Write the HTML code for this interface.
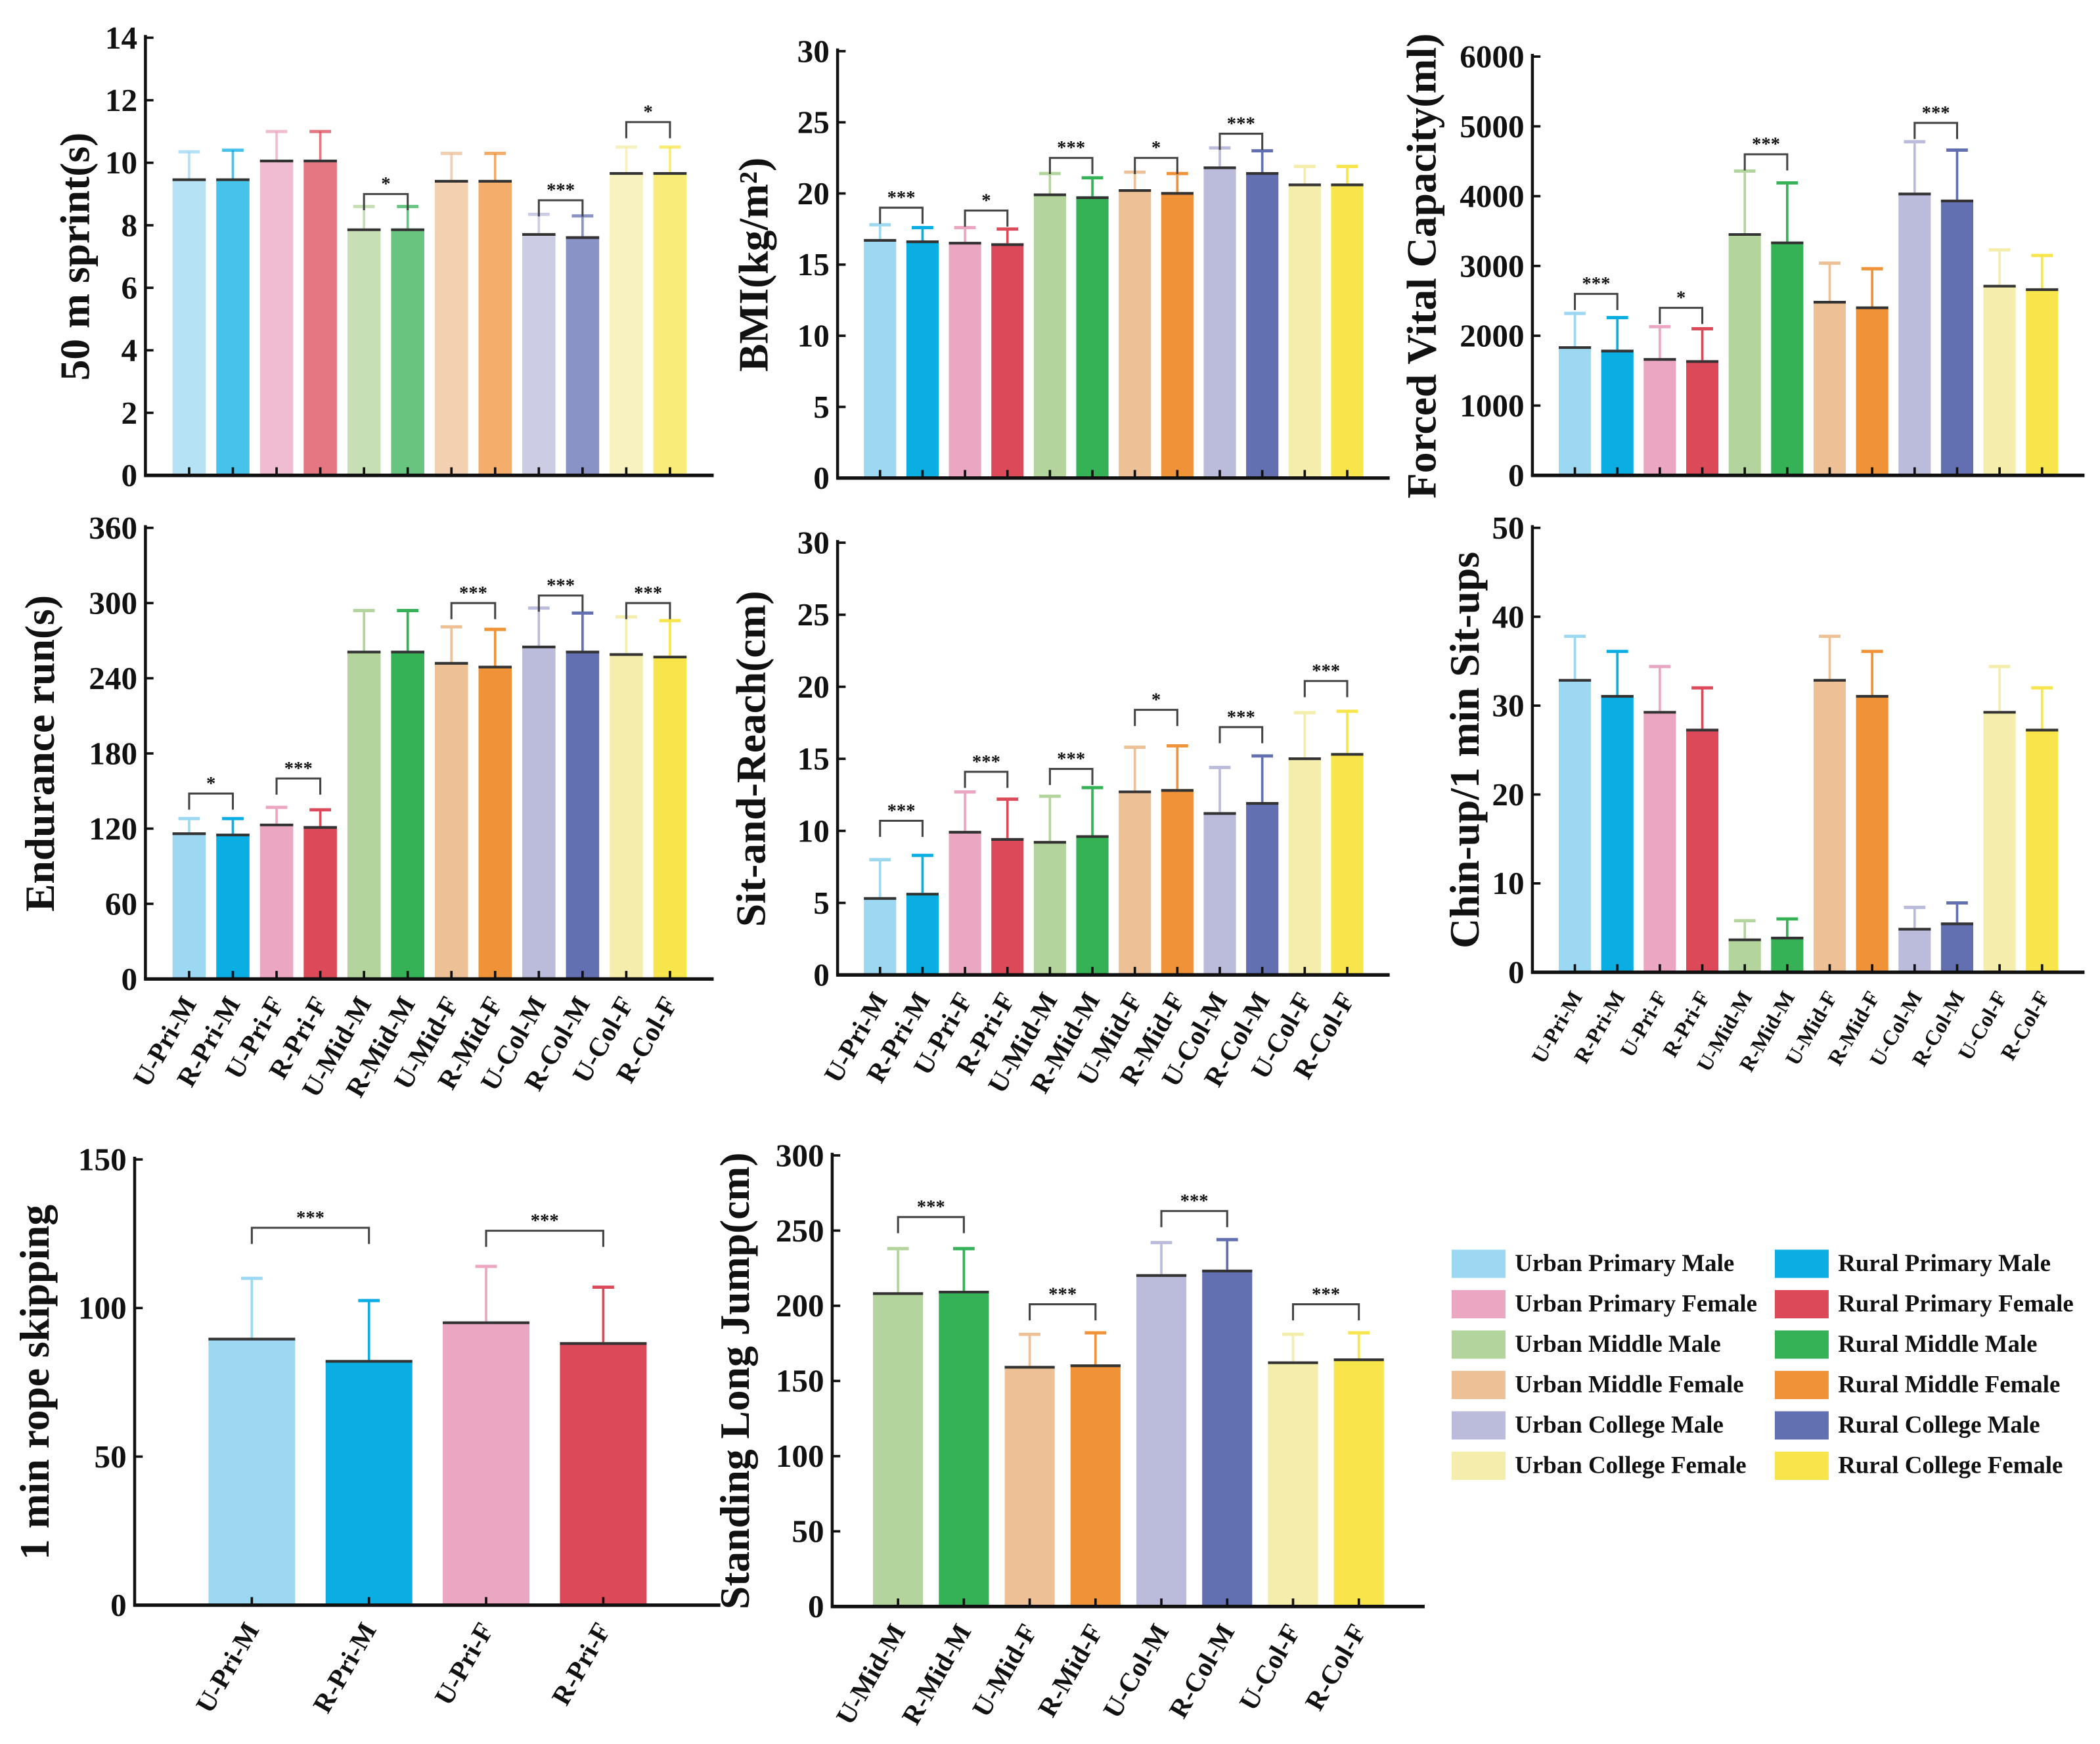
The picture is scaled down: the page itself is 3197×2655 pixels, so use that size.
<!DOCTYPE html>
<html><head><meta charset="utf-8">
<style>
html,body{margin:0;padding:0;background:#fff;}
svg{display:block;}
text{font-family:"Liberation Serif",serif;font-weight:bold;fill:#111;}
</style></head>
<body>
<svg id="fig" width="3197" height="2655" viewBox="0 0 1559.5 1295.1" preserveAspectRatio="none" xmlns="http://www.w3.org/2000/svg"></svg>
<script>
const colors12 = ["#9dd8f2","#0aaee3","#eba6c1","#dc4a5a","#b3d49c","#35b156","#edc095","#f09238","#bbbbdb","#626fb1","#f5edab","#f8e54c"];
const cats12 = ["U-Pri-M","R-Pri-M","U-Pri-F","R-Pri-F","U-Mid-M","R-Mid-M","U-Mid-F","R-Mid-F","U-Col-M","R-Col-M","U-Col-F","R-Col-F"];

const sprintValues = [9.5,9.5,10.1,10.1,7.9,7.9,9.45,9.45,7.75,7.65,9.7,9.7];
const sprintErr = [10.35,10.4,11.0,11.0,8.6,8.6,10.3,10.3,8.35,8.3,10.5,10.5];
const sprintTicks = [0,2,4,6,8,10,12,14];
const sprintSig = [[4,5,"*",9.0],[8,9,"***",8.8],[10,11,"*",11.3]];

const bmiValues = [16.8,16.7,16.6,16.5,20.0,19.8,20.3,20.1,21.9,21.5,20.7,20.7];
const bmiErr = [17.8,17.6,17.6,17.5,21.4,21.1,21.5,21.4,23.2,23.0,21.9,21.9];
const bmiTicks = [0,5,10,15,20,25,30];
const bmiSig = [[0,1,"***",19.0],[2,3,"*",18.8],[4,5,"***",22.5],[6,7,"*",22.5],[8,9,"***",24.2]];

const fvcValues = [1850,1800,1680,1650,3470,3350,2500,2420,4050,3950,2730,2680];
const fvcErr = [2320,2260,2130,2100,4360,4190,3040,2960,4780,4660,3230,3150];
const fvcTicks = [0,1000,2000,3000,4000,5000,6000];
const fvcSig = [[0,1,"***",2600],[2,3,"*",2400],[4,5,"***",4600],[8,9,"***",5050]];

const endValues = [117,116,124,122,262,262,253,250,266,262,260,258];
const endErr = [128,128,137,135,294,294,281,279,296,292,289,286];
const endTicks = [0,60,120,180,240,300,360];
const endSig = [[0,1,"*",148],[2,3,"***",160],[6,7,"***",300],[8,9,"***",306],[10,11,"***",300]];

const sitValues = [5.4,5.7,10.0,9.5,9.3,9.7,12.8,12.9,11.3,12.0,15.1,15.4];
const sitErr = [8.0,8.3,12.7,12.2,12.4,13.0,15.8,15.9,14.4,15.2,18.2,18.3];
const sitTicks = [0,5,10,15,20,25,30];
const sitSig = [[0,1,"***",10.7],[2,3,"***",14.1],[4,5,"***",14.3],[6,7,"*",18.4],[8,9,"***",17.2],[10,11,"***",20.4]];

const chinValues = [33,31.2,29.4,27.4,3.8,4.0,33,31.2,5.0,5.6,29.4,27.4];
const chinErr = [37.8,36.1,34.4,32,5.8,6.0,37.8,36.1,7.3,7.8,34.4,32];
const chinTicks = [0,10,20,30,40,50];

const ropeCats = ["U-Pri-M","R-Pri-M","U-Pri-F","R-Pri-F"];
const ropeValues = [90,82.5,95.5,88.5];
const ropeErr = [110,102.5,114,107];
const ropeTicks = [0,50,100,150];
const ropeSig = [[0,1,"***",127],[2,3,"***",126]];

const jumpCats = ["U-Mid-M","R-Mid-M","U-Mid-F","R-Mid-F","U-Col-M","R-Col-M","U-Col-F","R-Col-F"];
const jumpValues = [209,210,160,161,221,224,163,165];
const jumpErr = [238,238,181,182,242,244,181,182];
const jumpTicks = [0,50,100,150,200,250,300];
const jumpSig = [[0,1,"***",259],[2,3,"***",201],[4,5,"***",263],[6,7,"***",201]];

const legendLabels = ["Urban Primary Male","Rural Primary Male","Urban Primary Female","Rural Primary Female","Urban Middle Male","Rural Middle Male","Urban Middle Female","Rural Middle Female","Urban College Male","Rural College Male","Urban College Female","Rural College Female"];

const NS="http://www.w3.org/2000/svg";
const svg=document.getElementById('fig');
function mk(tag,attrs,parent){const e=document.createElementNS(NS,tag);for(const k in attrs)e.setAttribute(k,attrs[k]);(parent||svg).appendChild(e);return e;}

function chart(o){
  const g=mk('g',{});
  
  
  const max=o.ticks[o.ticks.length-1];
  const y=v=>o.y0-(v/max)*(o.y0-o.yTop);
  const n=o.values.length;
  const band=(o.xEnd-o.x0)/(n+1);
  const xc=i=>o.x0+band*(i+1);
  const bw=band*o.bwf;
  const ya=mk('line',{x1:o.x0,y1:o.yTop-2,x2:o.x0,y2:o.y0+1,stroke:'#111','stroke-width':2.2},g);
  
  
  o.ticks.forEach(t=>{
    mk('line',{x1:o.x0,y1:y(t),x2:o.x0+6,y2:y(t),stroke:'#111','stroke-width':1.8},g);
    const tl=mk('text',{x:o.x0-6,y:y(t)+8,'text-anchor':'end','font-size':o.tfs||24},g);
    tl.textContent=t;
    
    
  });
  const yt=mk('text',{x:0,y:0,'text-anchor':'middle','font-size':o.titleFs||31,transform:`translate(${o.titleX},${(o.y0+o.yTop)/2}) rotate(-90)`},g);
  yt.textContent=o.title;
  
  
  o.values.forEach((v,i)=>{
    const c=o.colors[i];
    const eb=mk('g',{},g);
    
    
    mk('line',{x1:xc(i),y1:y(v),x2:xc(i),y2:y(o.err[i]),stroke:c,'stroke-width':1.8,opacity:o.op||1},eb);
    mk('line',{x1:xc(i)-8,y1:y(o.err[i]),x2:xc(i)+8,y2:y(o.err[i]),stroke:c,'stroke-width':2.4,opacity:o.op||1},eb);
    const b=mk('rect',{x:xc(i)-bw/2,y:y(v),width:bw,height:o.y0-y(v),fill:c,opacity:o.op||1},g);
    
    
    mk('line',{x1:xc(i)-bw/2,y1:y(v)+1,x2:xc(i)+bw/2,y2:y(v)+1,stroke:'#333','stroke-width':2},g);
    mk('line',{x1:xc(i),y1:o.y0,x2:xc(i),y2:o.y0-6,stroke:'#111','stroke-width':1.8},g);
    if(o.showX){
      const xl=mk('text',{x:0,y:0,'text-anchor':'end','font-size':o.xfs||20,transform:`translate(${xc(i)+6},${o.y0+18}) rotate(-60)`},g);
      xl.textContent=o.cats[i];
      
      
    }
  });
  const xa=mk('line',{x1:o.x0-1,y1:o.y0,x2:o.xEnd,y2:o.y0,stroke:'#111','stroke-width':2.6},g);
  
  
  (o.sig||[]).forEach(s=>{
    const a=xc(s[0]),b2=xc(s[1]),yy=y(s[3]);
    const sg=mk('g',{},g);
    
    
    mk('polyline',{points:`${a},${yy+12} ${a},${yy} ${b2},${yy} ${b2},${yy+12}`,fill:'none',stroke:'#444','stroke-width':1.5},sg);
    const st=mk('text',{x:(a+b2)/2,y:yy-3,'text-anchor':'middle','font-size':14,fill:'#333'},sg);
    st.textContent=s[2];
  });
}

chart({name:'sprint-chart',x0:108,xEnd:530,yTop:28,y0:353,values:sprintValues,err:sprintErr,ticks:sprintTicks,sig:sprintSig,cats:cats12,colors:colors12,op:0.75,title:'50 m sprint(s)',titleX:66,bwf:0.76,showX:false});
chart({name:'bmi-chart',x0:622,xEnd:1032,yTop:38,y0:355,values:bmiValues,err:bmiErr,ticks:bmiTicks,sig:bmiSig,cats:cats12,colors:colors12,title:'BMI(kg/m²)',titleX:570,bwf:0.76,showX:false});
chart({name:'fvc-chart',x0:1138,xEnd:1548,yTop:42,y0:353,values:fvcValues,err:fvcErr,ticks:fvcTicks,sig:fvcSig,cats:cats12,colors:colors12,title:'Forced Vital Capacity(ml)',titleX:1066,bwf:0.76,showX:false});
chart({name:'endurance-chart',x0:108,xEnd:530,yTop:392,y0:727,values:endValues,err:endErr,ticks:endTicks,sig:endSig,cats:cats12,colors:colors12,title:'Endurance run(s)',titleX:40,bwf:0.76,showX:true});
chart({name:'sit-reach-chart',x0:622,xEnd:1032,yTop:403,y0:724,values:sitValues,err:sitErr,ticks:sitTicks,sig:sitSig,cats:cats12,colors:colors12,title:'Sit-and-Reach(cm)',titleX:568,bwf:0.76,showX:true});
chart({name:'chinup-chart',x0:1138,xEnd:1548,yTop:392,y0:722,values:chinValues,err:chinErr,ticks:chinTicks,cats:cats12,colors:colors12,title:'Chin-up/1 min Sit-ups',titleX:1098,bwf:0.76,showX:true,xfs:16});
chart({name:'rope-chart',x0:100,xEnd:535,yTop:861,y0:1192,values:ropeValues,err:ropeErr,ticks:ropeTicks,sig:ropeSig,cats:ropeCats,colors:[colors12[0],colors12[1],colors12[2],colors12[3]],title:'1 min rope skipping',titleX:36,bwf:0.74,showX:true});
chart({name:'jump-chart',x0:618,xEnd:1058,yTop:858,y0:1193,values:jumpValues,err:jumpErr,ticks:jumpTicks,sig:jumpSig,cats:jumpCats,colors:colors12.slice(4),title:'Standing Long Jump(cm)',titleX:556,bwf:0.76,showX:true});

const lg=mk('g',{});


legendLabels.forEach((l,i)=>{
  const col=i%2,row=Math.floor(i/2);
  const x=col?1318:1078, yc=938+row*30;
  const e=mk('g',{},lg);
  
  
  mk('rect',{x:x,y:yc-10,width:40,height:21,fill:colors12[i]},e);
  const t=mk('text',{x:x+47,y:yc+6,'font-size':18},e);
  t.textContent=l;
});
</script>
</body></html>
